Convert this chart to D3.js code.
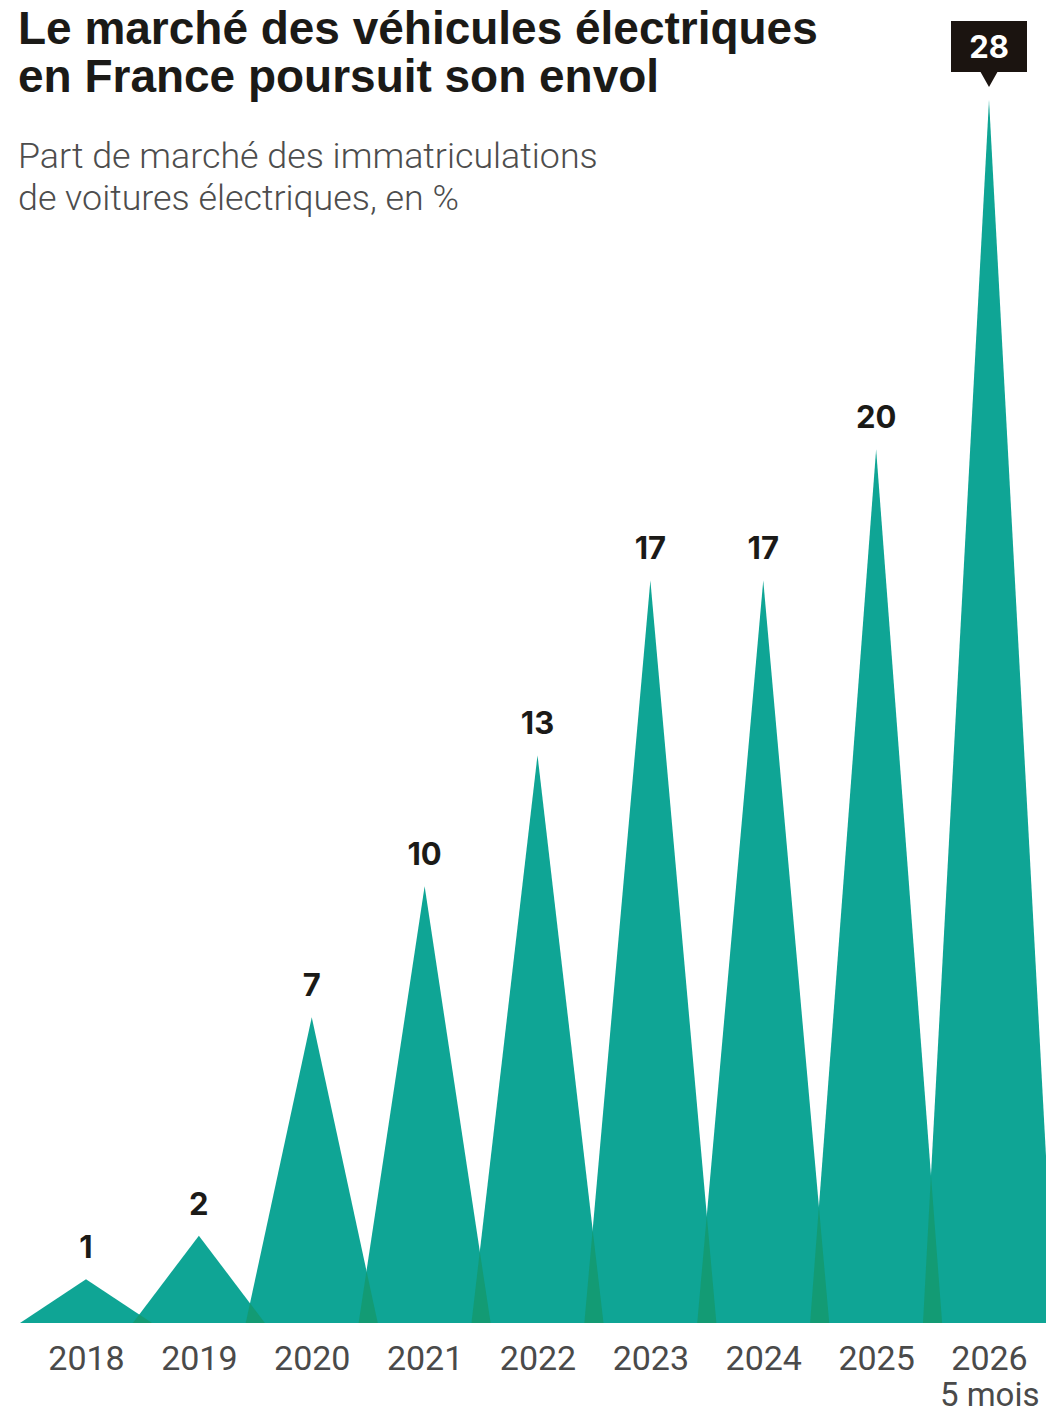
<!DOCTYPE html>
<html><head><meta charset="utf-8">
<script src="https://cdn.jsdelivr.net/npm/d3@7"></script>
<style>
html,body{margin:0;padding:0;background:#fff;}
svg{display:block;}
</style></head>
<body>
<script>
const titleLines = ["Le marché des véhicules électriques", "en France poursuit son envol"];
const subtitleLines = ["Part de marché des immatriculations", "de voitures électriques, en %"];
const years = ["2018","2019","2020","2021","2022","2023","2024","2025","2026"];
const values = [1, 2, 7, 10, 13, 17, 17, 20, 28];
const yearSubLabels = ["", "", "", "", "", "", "", "", "5 mois"];
const highlightYear = "2026";

const W = 1046, H = 1413;
const svg = d3.select("body").append("svg").attr("width", W).attr("height", H);

const x = d3.scalePoint().domain(years).range([86, 989]);
const y = d3.scaleLinear().domain([0, 28]).range([1323, 100]);
const halfW = 66;
const y0 = y(0);

const teal = "#0fa595", overlapCol = "#139b74";

// Title (two lines)
const titleFont = "'Liberation Sans', Arial, sans-serif";
const tl1 = svg.append("text").attr("x", 18).attr("y", 44)
  .attr("font-family", titleFont).attr("font-weight", 700).attr("font-size", 40)
  .attr("fill", "#1b1a17").text(titleLines[0]);
const tfs = 40 * 800 / tl1.node().getComputedTextLength();
tl1.attr("font-size", tfs);
svg.append("text").attr("x", 18).attr("y", 92)
  .attr("font-family", titleFont).attr("font-weight", 700).attr("font-size", tfs)
  .attr("fill", "#1b1a17").text(titleLines[1]);

// Subtitle (two lines)
const sl1 = svg.append("text").attr("x", 18).attr("y", 168)
  .attr("font-family", "Roboto, sans-serif").attr("font-weight", 300).attr("font-size", 34)
  .attr("fill", "#4d4d4d").text(subtitleLines[0]);
const sfs = 34 * 580 / sl1.node().getComputedTextLength();
sl1.attr("font-size", sfs);
svg.append("text").attr("x", 18).attr("y", 210)
  .attr("font-family", "Roboto, sans-serif").attr("font-weight", 300).attr("font-size", sfs)
  .attr("fill", "#4d4d4d").text(subtitleLines[1]);

const data = years.map((yr, i) => ({year: yr, value: values[i], sub: yearSubLabels[i]}));

// Triangles
svg.append("g").selectAll("path.tri").data(data).join("path")
  .attr("class", "tri")
  .attr("fill", teal)
  .attr("d", d => {
    const cx = x(d.year);
    return `M${cx - halfW},${y0}L${cx},${y(d.value)}L${cx + halfW},${y0}Z`;
  });

// Overlaps
const pairs = d3.pairs(data);
svg.append("g").selectAll("path.ov").data(pairs).join("path")
  .attr("class", "ov")
  .attr("fill", overlapCol)
  .attr("d", ([a, b]) => {
    const xa = x(a.year), xb = x(b.year);
    const ha = y0 - y(a.value), hb = y0 - y(b.value);
    const L = xb - halfW, R = xa + halfW;
    const o = R - L;
    if (o <= 0) return "";
    const t = ha * o / (ha + hb);
    const h = hb * t / halfW;
    return `M${L},${y0}L${L + t},${y0 - h}L${R},${y0}Z`;
  });

// Value labels
const normal = data.filter(d => d.year !== highlightYear);
svg.append("g").selectAll("text").data(normal).join("text")
  .attr("x", d => x(d.year))
  .attr("y", d => y(d.value) - 21)
  .attr("text-anchor", "middle")
  .attr("font-family", "Inter, Lato, sans-serif")
  .attr("font-weight", 700)
  .attr("font-size", 31)
  .attr("fill", "#1b1a17")
  .text(d => d.value);

// Highlight label box
const hd = data.find(d => d.year === highlightYear);
const hx = x(hd.year), hy = y(hd.value);
const hg = svg.append("g");
hg.append("rect").attr("x", hx - 38).attr("y", hy - 79).attr("width", 76).attr("height", 51).attr("fill", "#1b1410");
hg.append("path").attr("d", `M${hx - 9},${hy - 29}L${hx + 9},${hy - 29}L${hx},${hy - 13}Z`).attr("fill", "#1b1410");
hg.append("text").attr("x", hx).attr("y", hy - 42).attr("text-anchor", "middle")
  .attr("font-family", "Inter, Lato, sans-serif").attr("font-weight", 700).attr("font-size", 31)
  .attr("fill", "#fff").text(hd.value);

// X axis labels
const ax = svg.append("g").attr("transform", `translate(0,${y0})`)
  .call(d3.axisBottom(x).tickSize(0).tickPadding(0));
ax.select(".domain").remove();
ax.selectAll(".tick text")
  .attr("y", 47).attr("dy", 0)
  .attr("font-family", "Roboto, sans-serif")
  .attr("font-size", 34)
  .attr("fill", "#4a4a4a");
ax.selectAll(".tick").filter(d => yearSubLabels[years.indexOf(d)])
  .append("text")
  .attr("x", 50).attr("y", 83)
  .attr("text-anchor", "end")
  .attr("font-family", "Roboto, sans-serif")
  .attr("font-size", 33)
  .attr("fill", "#4a4a4a")
  .text(d => yearSubLabels[years.indexOf(d)]);
</script>
</body></html>
